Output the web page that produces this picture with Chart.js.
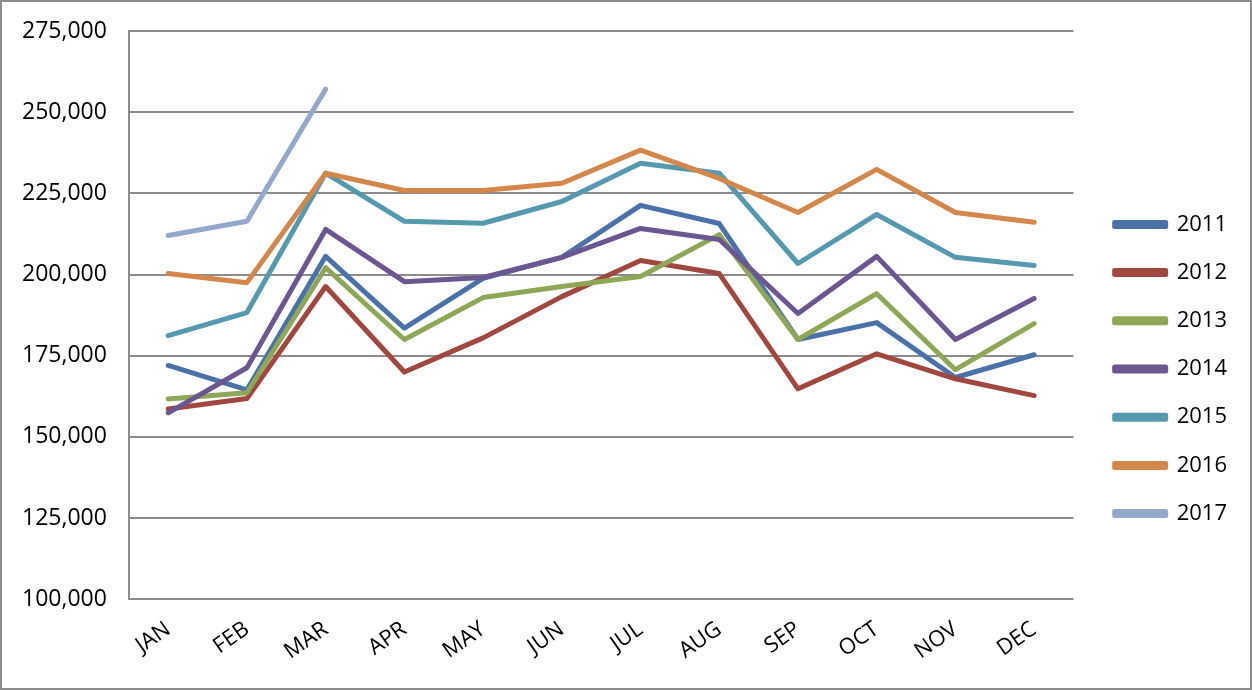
<!DOCTYPE html>
<html>
<head>
<meta charset="utf-8">
<script src="https://cdn.jsdelivr.net/npm/chart.js@4/dist/chart.umd.min.js"></script>
<style>
  html, body { margin: 0; padding: 0; background: #fff; }
  #wrap { width: 1252px; height: 690px; position: relative; }
</style>
</head>
<body>
<div id="wrap"><canvas id="chart" width="1252" height="690"></canvas></div>
<script>
// month labels and yearly series
const months = ["JAN", "FEB", "MAR", "APR", "MAY", "JUN", "JUL", "AUG", "SEP", "OCT", "NOV", "DEC"];
const years = ["2011", "2012", "2013", "2014", "2015", "2016", "2017"];

const s2011 = [172000, 164500, 205600, 183500, 198800, 205300, 221300, 215700, 180000, 185200, 168300, 175300];
const s2012 = [158600, 161800, 196300, 170000, 180500, 193200, 204300, 200300, 164800, 175600, 167900, 162700];
const s2013 = [161700, 163600, 202100, 180000, 192900, 196300, 199400, 212300, 180000, 194100, 170700, 184900];
const s2014 = [157400, 171300, 213900, 197800, 199100, 205300, 214200, 210800, 188000, 205600, 180000, 192600];
const s2015 = [181200, 188300, 231200, 216400, 215800, 222500, 234300, 231200, 203400, 218500, 205300, 202800];
const s2016 = [200300, 197500, 231200, 225900, 225900, 228100, 238300, 229600, 219100, 232400, 219100, 216100];
const s2017 = [212000, 216400, 257100];

const yMin = 100000;
const yMax = 275000;
const yStep = 25000;

const COLORS = ["#4A71A8", "#A0473F", "#8EA756", "#6A5690", "#5499AE", "#D4874A", "#93A8CB"];
const series = [s2011, s2012, s2013, s2014, s2015, s2016, s2017];

const FONT = "'Open Sans', 'Liberation Sans', sans-serif";

// grey frame round the whole picture
const framePlugin = {
  id: "frame",
  afterDraw(chart) {
    const ctx = chart.ctx;
    ctx.save();
    ctx.strokeStyle = "#8c8c8c";
    ctx.lineWidth = 2;
    ctx.strokeRect(1, 1, chart.width - 2, chart.height - 2);
    ctx.restore();
  }
};

// nudge the legend a bit right and down, like the original
const legendNudge = {
  id: "legendNudge",
  afterLayout(chart) {
    const lg = chart.legend;
    if (!lg) return;
    lg.left += 15;
    lg.right += 15;
    lg.top += 28;
    lg.bottom += 28;
  }
};

function buildDatasets() {
  return years.map((year, i) => ({
    label: year,
    data: series[i],
    borderColor: COLORS[i],
    backgroundColor: COLORS[i],
    borderWidth: 5,
    borderCapStyle: "round",
    borderJoinStyle: "round",
    pointRadius: 0,
    pointHoverRadius: 0,
    tension: 0,
    fill: false,
    // later years are painted on top, as in the original
    order: years.length - i
  }));
}

function main() {
  const ctx = document.getElementById("chart").getContext("2d");
  new Chart(ctx, {
    type: "line",
    data: {
      labels: months,
      datasets: buildDatasets()
    },
    options: {
      responsive: false,
      animation: false,
      layout: {
        padding: { left: 0, top: 0, right: 30, bottom: 8 }
      },
      scales: {
        x: {
          offset: true,
          grid: { display: false, drawTicks: false },
          border: { display: false },
          ticks: {
            color: "#000",
            font: { family: FONT, size: 22 },
            minRotation: 35,
            maxRotation: 35,
            padding: 17
          }
        },
        y: {
          min: yMin,
          max: yMax,
          grid: { color: "#8c8c8c", lineWidth: 2, drawTicks: false },
          border: { display: true, color: "#8c8c8c", width: 2 },
          ticks: {
            stepSize: yStep,
            color: "#000",
            font: { family: FONT, size: 23 },
            padding: 22,
            callback: function(value) {
              return value.toLocaleString("en-US");
            }
          },
          // the tick padding also pads the top; keep the plot top where the original has it
          afterFit: function(scale) {
            scale.paddingTop = 31;
          }
        }
      },
      plugins: {
        title: { display: false },
        tooltip: { enabled: false },
        legend: {
          display: true,
          position: "right",
          align: "center",
          labels: {
            color: "#000",
            font: { family: FONT, size: 22 },
            boxWidth: 51,
            boxHeight: 4,
            padding: 26.2,
            sort: (a, b) => a.datasetIndex - b.datasetIndex
          }
        }
      }
    },
    plugins: [framePlugin, legendNudge]
  });
}

window.addEventListener("load", main);
</script>
</body>
</html>
